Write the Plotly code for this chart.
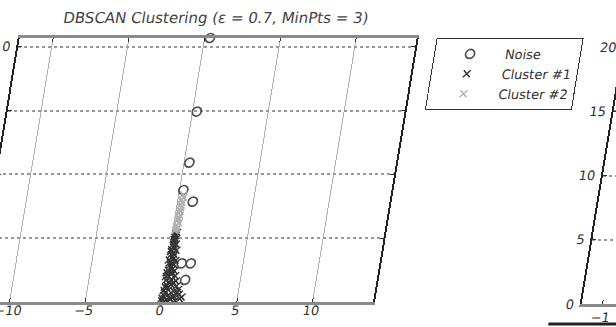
import plotly.graph_objects as go

# ---- data ----
noise_x = [0.35, 0.28, 0.35, 0.25, 1.00, 0.94, 1.54, 1.35]
noise_y = [20.7, 14.93, 10.93, 8.78, 7.87, 3.03, 3.03, 1.73]

cluster1_x = [0.00, 0.30, 0.60, 0.90, 1.20, 0.10, 0.40, 0.80, 1.10, 0.05, 0.35, 0.70, 1.00,
              0.20, 0.50, 0.85, 0.10, 0.45, 0.75, 0.15, 0.40, 0.65, 0.10, 0.35, 0.55, 0.20,
              0.45, 0.05, 0.30, 0.50, 0.15, 0.35, 0.10, 0.30, 0.45, 0.20, 0.35, 0.15, 0.30,
              0.25, 0.20, 0.30, 0.00, 0.15, 0.55, 1.30, 0.25, 0.05, 0.20, 0.45, 0.70, 0.95,
              0.10, 0.30, 0.55, 0.05, 0.25, 0.40, 0.15, 0.30, 0.10, 0.25, 0.20, 0.35, 0.15]
cluster1_y = [0.10, 0.15, 0.20, 0.10, 0.25, 0.50, 0.55, 0.45, 0.60, 0.90, 0.95, 0.85, 1.00,
              1.30, 1.35, 1.25, 1.70, 1.75, 1.65, 2.10, 2.15, 2.05, 2.50, 2.55, 2.45, 2.90,
              2.95, 3.30, 3.35, 3.25, 3.70, 3.75, 4.10, 4.15, 4.05, 4.50, 4.55, 4.90, 4.95,
              5.20, 5.35, 5.45, 0.30, 0.70, 0.30, 0.40, 1.10, 2.00, 0.05, 0.05, 0.40, 0.75,
              1.15, 1.55, 1.50, 2.30, 2.70, 2.30, 3.10, 3.55, 3.95, 4.35, 4.75, 3.00, 5.10]

cluster2_x = [0.15, 0.25, 0.20, 0.30, 0.20, 0.25, 0.30, 0.20, 0.25, 0.30, 0.25, 0.30, 0.25, 0.35,
              0.30, 0.20, 0.25, 0.30]
cluster2_y = [5.6, 5.8, 6.0, 6.2, 6.4, 6.6, 6.8, 7.0, 7.2, 7.4, 7.6, 7.8, 8.0, 8.2, 8.4, 5.7,
              6.5, 7.1]

x_ticks = [-10, -5, 0, 5, 10]
y_ticks = [0, 5, 10, 15, 20]
x_range = [-12.21, 13.99]
y_range = [0, 20.7]
title_text = "DBSCAN Clustering (ε = 0.7, MinPts = 3)"

W, H = 680, 327
FONT = "DejaVu Sans"

fig = go.Figure()
fig.add_trace(go.Scatter(x=noise_x, y=noise_y, mode="markers", name="Noise", cliponaxis=False,
                         marker=dict(symbol="circle-open", size=9, color="#505050",
                                     line=dict(width=1.7, color="#505050"))))
fig.add_trace(go.Scatter(x=cluster1_x, y=cluster1_y, mode="markers", name="Cluster #1",
                         marker=dict(symbol="x-thin", size=7, color="#333",
                                     line=dict(width=1.4, color="#333"))))
fig.add_trace(go.Scatter(x=cluster2_x, y=cluster2_y, mode="markers", name="Cluster #2",
                         marker=dict(symbol="x-thin", size=7, color="#b0b0b0",
                                     line=dict(width=1.4, color="#b0b0b0"))))
# second (partly visible) axes on the right
fig.add_trace(go.Scatter(x=[], y=[], xaxis="x2", yaxis="y2", showlegend=False))

def px_x(p):
    return p / W

def px_y(p):
    return (H - p) / H

axis_common = dict(ticks="inside", ticklen=4, tickcolor="#333", showline=True, automargin=False,
                   mirror="ticks", zeroline=False, tickfont=dict(family=FONT, size=13, color="#333"))

fig.update_layout(
    width=W, height=H, margin=dict(l=0, r=0, t=0, b=0, autoexpand=False),
    paper_bgcolor="white", plot_bgcolor="white",
    font=dict(family=FONT, color="#333"),
    title=dict(text=title_text, x=px_x(209), y=px_y(18), xanchor="center", yanchor="middle",
               automargin=False, font=dict(family=FONT, size=15, color="#444")),
    xaxis=dict(domain=[px_x(16), px_x(413)], range=x_range, tickvals=x_ticks,
               linecolor="#8a8a8a", linewidth=2.5, showgrid=True, gridcolor="#b0b0b0",
               gridwidth=1, anchor="y", ticklabelstandoff=-5, **axis_common),
    yaxis=dict(domain=[px_y(302), px_y(38)], range=y_range, tickvals=y_ticks,
               linecolor="#222", linewidth=2, showgrid=True, gridcolor="#999",
               griddash="dot", gridwidth=1.5, anchor="x", ticklabelstandoff=3, **axis_common),
    xaxis2=dict(domain=[px_x(622), 1.0], range=[-1.36, -0.36], tickvals=[-1],
                linecolor="#8a8a8a", linewidth=2.5, showgrid=False, anchor="y2", **axis_common),
    yaxis2=dict(domain=[px_y(304), px_y(38)], range=y_range, tickvals=y_ticks,
                linecolor="#222", linewidth=2, showgrid=True, gridcolor="#999",
                griddash="dot", gridwidth=1.5, anchor="x2", ticklabelstandoff=3, **axis_common),
    legend=dict(x=px_x(433), y=px_y(38), xanchor="left", yanchor="top",
                bordercolor="#333", borderwidth=1, bgcolor="white", itemwidth=60,
                font=dict(family=FONT, size=13, color="#333")),
    showlegend=True,
    shapes=[dict(type="line", xref="paper", yref="paper", x0=px_x(592), x1=px_x(660),
                 y0=px_y(324), y1=px_y(324), line=dict(color="#222", width=3))],
)

post = """
var gd = document.getElementById('{plot_id}');
document.documentElement.style.overflow = 'hidden';
document.body.style.margin = '0';
document.body.style.overflow = 'hidden';
gd.style.transformOrigin = '0px 302px';
gd.style.transform = 'translateX(-40px) skewX(-9.4deg)';
"""

fig.write_html("out.html", post_script=post)
